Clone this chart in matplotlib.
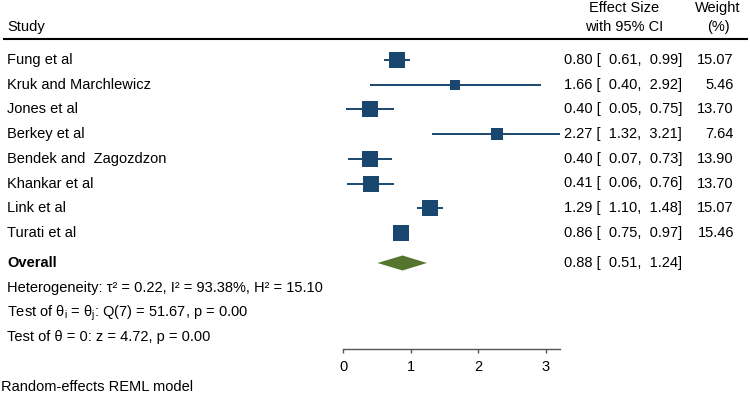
import matplotlib.pyplot as plt
import numpy as np

plt.rcParams['font.family'] = ['Liberation Sans', 'DejaVu Sans']
plt.rcParams['mathtext.fontset'] = 'custom'
plt.rcParams['mathtext.rm'] = 'Liberation Sans'

studies = ["Fung et al", "Kruk and Marchlewicz", "Jones et al", "Berkey et al",
           "Bendek and  Zagozdzon", "Khankar et al", "Link et al", "Turati et al"]
effect = [0.80, 1.66, 0.40, 2.27, 0.40, 0.41, 1.29, 0.86]
ci_low = [0.61, 0.40, 0.05, 1.32, 0.07, 0.06, 1.10, 0.75]
ci_high = [0.99, 2.92, 0.75, 3.21, 0.73, 0.76, 1.48, 0.97]
weight = [15.07, 5.46, 13.70, 7.64, 13.90, 13.70, 15.07, 15.46]

overall = 0.88
overall_low = 0.51
overall_high = 1.24

W, H = 750, 399
navy = '#1a476f'
green = '#55752f'
fs = 10.5

fig = plt.figure(figsize=(W / 100, H / 100), dpi=100)

# forest panel: x in effect units, y in pixel rows (0 at top)
x0_px, unit_px, axis_y = 343, 67.67, 349
ax = fig.add_axes([x0_px / W, (H - axis_y) / H, 3.2 * unit_px / W, axis_y / H])
ax.set_xlim(0, 3.2)
ax.set_ylim(axis_y, 0)

row_y = 60 + 24.7 * np.arange(len(studies))
overall_y = 263

# CI lines and weight-sized squares
for i in range(len(studies)):
    ax.plot([ci_low[i], ci_high[i]], [row_y[i], row_y[i]], color=navy, lw=1.4,
            solid_capstyle='butt')
    side = 4.12 * np.sqrt(weight[i]) * 0.72
    ax.plot(effect[i], row_y[i], marker='s', ms=side, color=navy, mew=0)

# overall diamond
ax.fill([overall_low, overall, overall_high, overall],
        [overall_y, overall_y - 7.5, overall_y, overall_y + 7.5],
        color=green, lw=0)

for s in ['top', 'right', 'left']:
    ax.spines[s].set_visible(False)
ax.spines['bottom'].set_color('#555555')
ax.spines['bottom'].set_linewidth(1.0)
ax.set_yticks([])
ax.set_xticks([0, 1, 2, 3])
ax.tick_params(axis='x', direction='out', length=3, width=1.0, color='#555555',
               labelsize=fs, pad=5)


def txt(x, y, s, **kw):
    fig.text(x / W, 1 - y / H, s, fontsize=fs, va='center', **kw)


def ci_str(e, lo, hi):
    return f"{e:.2f} [ {lo:5.2f}, {hi:5.2f}]"


# header
txt(7, 27, "Study")
txt(624, 8, "Effect Size", ha='center')
txt(624, 27, "with 95% CI", ha='center')
txt(718, 8, "Weight", ha='center')
txt(718, 27, "(%)", ha='center')
fig.add_artist(plt.Line2D([4 / W, 747 / W], [1 - 39 / H, 1 - 39 / H], color='black', lw=1.5))

# study rows
for i in range(len(studies)):
    txt(7, row_y[i], studies[i])
    txt(682, row_y[i], ci_str(effect[i], ci_low[i], ci_high[i]), ha='right')
    txt(734, row_y[i], f"{weight[i]:.2f}", ha='right')

txt(7, overall_y, "Overall", fontweight='bold')
txt(682, overall_y, ci_str(overall, overall_low, overall_high), ha='right')

txt(7, 288, "Heterogeneity: τ² = 0.22, I² = 93.38%, H² = 15.10")
txt(7, 313, r"Test of θ$_\mathrm{i}$ = θ$_\mathrm{j}$: Q(7) = 51.67, p = 0.00")
txt(7, 337, "Test of θ = 0: z = 4.72, p = 0.00")
txt(1, 387, "Random-effects REML model")

fig.savefig("out.png", dpi=100)
